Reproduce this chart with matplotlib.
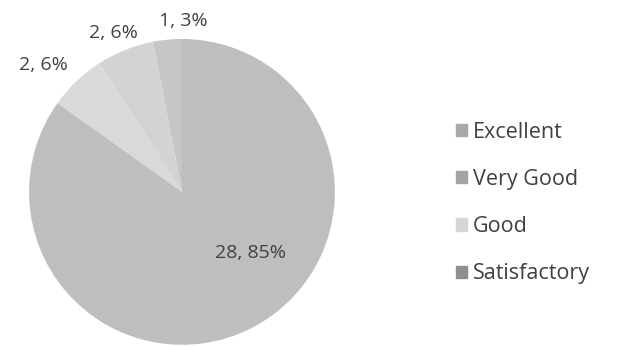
import matplotlib.pyplot as plt

# rating counts from the feedback form
ratings = ["Excellent", "Very Good", "Good", "Satisfactory"]
counts = [1, 2, 2, 28]
pcts = [3, 6, 6, 85]

wedge_colors = ["#c6c6c6", "#d3d3d3", "#d9d9d9", "#bebebe"]
legend_colors = ["#a9a9a9", "#a3a3a3", "#d6d6d6", "#8f8f8f"]

plt.rcParams["font.family"] = ["Open Sans", "DejaVu Sans"]

fig = plt.figure(figsize=(6.19, 3.47), dpi=100)
ax = fig.add_axes([0.047, 0.006, 0.494, 0.882])

labels = [f"{c}, {p}%" for c, p in zip(counts, pcts)]
wedges, texts = ax.pie(counts, colors=wedge_colors, startangle=90,
                       labels=labels, labeldistance=1.15,
                       textprops={"fontsize": 14, "color": "#404040"})
ax.set_xlim(-1, 1)
ax.set_ylim(-1, 1)
ax.set_aspect("equal")

# shift labels off their default spots (big one goes inside the pie)
x, y = texts[3].get_position()
texts[3].set_position((x * 0.63 / 1.15 + 0.16, y * 0.63 / 1.15 + 0.16))
x, y = texts[0].get_position()
texts[0].set_position((x + 0.12, y - 0.03))
x, y = texts[1].get_position()
texts[1].set_position((x - 0.02, y - 0.03))
x, y = texts[2].get_position()
texts[2].set_position((x - 0.11, y))
for t in texts:
    t.set_ha("center")

handles = [plt.Rectangle((0, 0), 1, 1, color=c) for c in legend_colors]
fig.legend(handles, ratings, loc="center left", bbox_to_anchor=(0.705, 0.415),
           frameon=False, fontsize=15.5, labelcolor="#404040",
           handlelength=0.5, handleheight=0.5, handletextpad=0.3,
           labelspacing=1.22)

fig.savefig("out.png", dpi=100)
